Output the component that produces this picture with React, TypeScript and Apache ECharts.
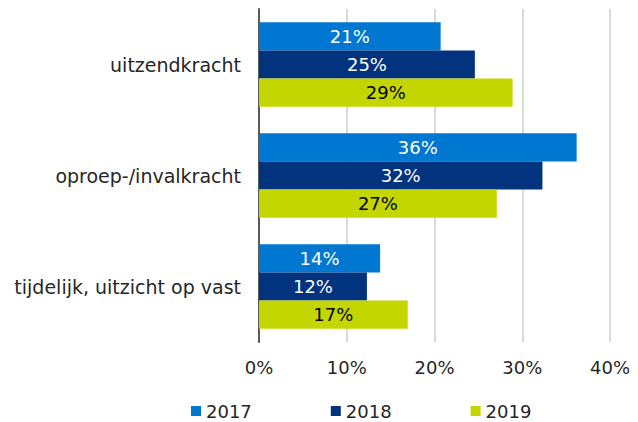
import React, { useEffect, useRef } from "react";
import * as echarts from "echarts";

const categories = ["uitzendkracht", "oproep-/invalkracht", "tijdelijk, uitzicht op vast"];
const years = ["2017", "2018", "2019"];
const values2017 = [20.7, 36.2, 13.8];
const values2018 = [24.6, 32.3, 12.3];
const values2019 = [28.9, 27.1, 16.95];
const xTicks = [0, 10, 20, 30, 40];

const colors = ["#0078D2", "#01337F", "#C4D600"];
const labelColors = ["#ffffff", "#ffffff", "#000000"];
const FONT = "DejaVu Sans, Verdana, sans-serif";

export default function App() {
  const ref = useRef<HTMLDivElement>(null);
  useEffect(() => {
    if (!ref.current) return;
    const chart = echarts.init(ref.current, undefined, { renderer: "svg" });
    const seriesData = [values2017, values2018, values2019];
    chart.setOption({
      animation: false,
      textStyle: { fontFamily: FONT },
      grid: { left: 259, right: 28, top: 9, bottom: 80, containLabel: false },
      legend: {
        data: years,
        left: 191,
        top: 402,
        padding: 0,
        itemWidth: 10,
        itemHeight: 10,
        itemGap: 79,
        icon: "rect",
        textStyle: { fontFamily: FONT, fontSize: 18, color: "#262626" },
      },
      xAxis: {
        type: "value",
        min: xTicks[0],
        max: xTicks[xTicks.length - 1],
        interval: 10,
        axisLine: { show: false },
        axisTick: { show: false },
        splitLine: { show: true, lineStyle: { color: "#D9D9D9", width: 2 } },
        axisLabel: {
          fontFamily: FONT,
          fontSize: 18,
          color: "#262626",
          margin: 16,
          formatter: (v: number) => `${v}%`,
        },
      },
      yAxis: {
        type: "category",
        data: categories,
        inverse: true,
        axisLine: { show: true, lineStyle: { color: "#595959", width: 2 } },
        axisTick: { show: false },
        axisLabel: { fontFamily: FONT, fontSize: 19, color: "#262626", margin: 18 },
      },
      series: years.map((y, i) => ({
        name: y,
        type: "bar",
        data: seriesData[i],
        barGap: "0%",
        barCategoryGap: "24%",
        itemStyle: { color: colors[i] },
        label: {
          show: true,
          position: "inside",
          fontFamily: FONT,
          fontSize: 18,
          color: labelColors[i],
          formatter: (p: any) => `${Math.round(p.value)}%`,
        },
      })),
    });
    return () => chart.dispose();
  }, []);
  return (
    <div
      ref={ref}
      style={{ position: "fixed", left: 0, top: 0, width: 638, height: 422, background: "#fff" }}
    />
  );
}
